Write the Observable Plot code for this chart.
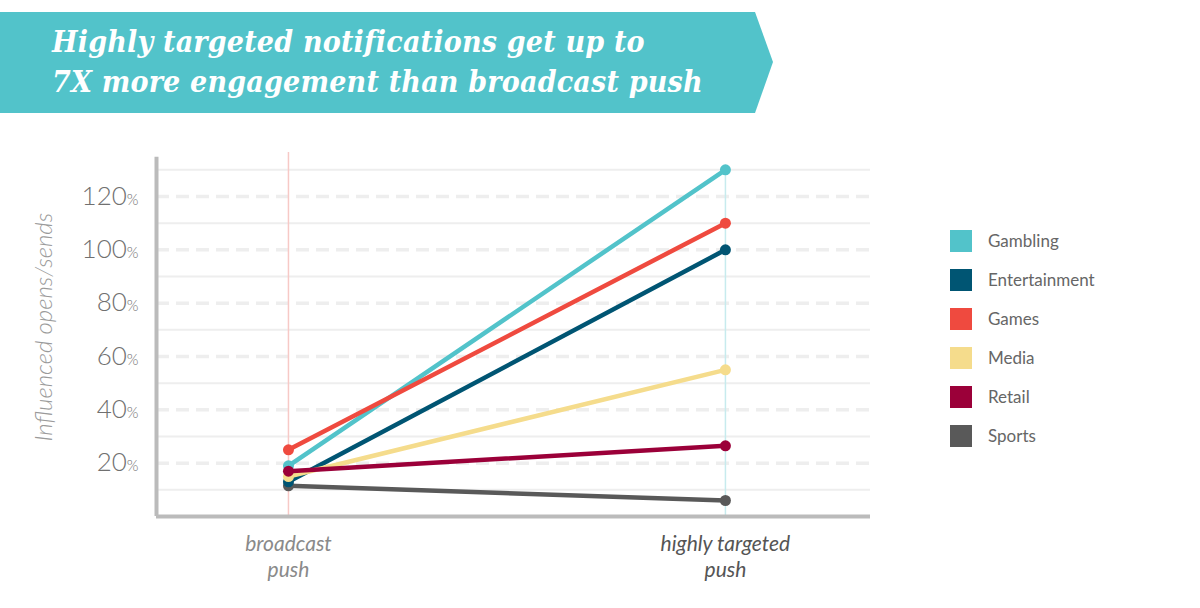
<!DOCTYPE html>
<html>
<head>
<meta charset="utf-8">
<script src="https://cdn.jsdelivr.net/npm/d3@7"></script>
<script src="https://cdn.jsdelivr.net/npm/@observablehq/plot@0.6"></script>
<style>
  html, body { margin: 0; padding: 0; background: #fff; }
  #wrap { position: relative; width: 1200px; height: 608px; overflow: hidden; font-family: Lato, "Open Sans", sans-serif; }
  #banner { position: absolute; left: 0; top: 12px; width: 775px; height: 101px; }
  #title { position: absolute; left: 52px; top: 22px; color: #fff; font-family: "DejaVu Serif", serif; font-style: italic; font-weight: bold; font-size: 30px; line-height: 40px; font-stretch: condensed; letter-spacing: 0.2px; }
  #chart { position: absolute; left: 0; top: 140px; }
  #legend { position: absolute; left: 950px; top: 221px; }
  .item { display: flex; align-items: center; height: 39px; }
  .sw { width: 22px; height: 22px; margin-right: 16px; }
  .lab { font-size: 17px; color: #666; font-weight: 400; }
</style>
</head>
<body>
<div id="wrap">
  <svg id="banner" viewBox="0 0 775 101"><polygon points="0,0 755,0 773,50 755,101 0,101" fill="#52C3CA"/></svg>
  <div id="title">Highly targeted notifications get up to<br>7X more engagement than broadcast push</div>
  <div id="chart"></div>
  <div id="legend"></div>
</div>
<script>
const categories = ["Gambling", "Entertainment", "Games", "Media", "Retail", "Sports"];
const colors = ["#52C3CA", "#005573", "#EF4A3F", "#F5DC8C", "#9B0039", "#595959"];
const pushTypes = ["broadcast\npush", "highly targeted\npush"];
const broadcastValues = [19, 13, 25, 15, 17, 11.5];
const targetedValues = [130, 100, 110, 55, 26.5, 6];
const yTicks = [20, 40, 60, 80, 100, 120];
const solidGrid = [10, 30, 50, 70, 90, 110, 130];
const drawOrder = ["Sports", "Entertainment", "Media", "Gambling", "Games", "Retail"];

const data = [];
for (const name of drawOrder) {
  const i = categories.indexOf(name);
  data.push({name, t: 0, v: broadcastValues[i]});
  data.push({name, t: 1, v: targetedValues[i]});
}
const labelData = pushTypes.map((label, t) => ({label, t}));

const xMin = -0.302, xMax = 1.332;
const plot = Plot.plot({
  width: 1200,
  height: 468,
  marginLeft: 156,
  marginRight: 330,
  marginTop: 16,
  marginBottom: 92,
  style: {fontFamily: "Lato, sans-serif", background: "transparent", overflow: "visible"},
  x: {domain: [xMin, xMax], axis: null},
  y: {domain: [0, 135], axis: null},
  color: {domain: categories, range: colors},
  marks: [
    Plot.ruleY(solidGrid, {x1: xMin, x2: xMax, stroke: "#eeeeee", strokeWidth: 2}),
    Plot.ruleY(yTicks, {x1: xMin, x2: xMax, stroke: "#eeeeee", strokeWidth: 3.5, strokeDasharray: "13,7"}),
    Plot.ruleX([0], {y1: 0, y2: 136.5, stroke: "#f7c9c6", strokeWidth: 1.5}),
    Plot.ruleX([1], {y1: 0, y2: 131.5, stroke: "#c7ebee", strokeWidth: 1.5}),
    Plot.ruleX([xMin], {y1: 0, y2: 134.7, stroke: "#bbbbbb", strokeWidth: 4}),
    Plot.ruleY([0], {x1: xMin, x2: xMax, stroke: "#bbbbbb", strokeWidth: 4}),
    Plot.axisY(yTicks, {tickSize: 0, tickPadding: 18, fontSize: 26, fill: "#707070", fontWeight: 300, tickFormat: d => d + "%", label: null}),
    Plot.text(["Influenced opens/sends"], {x: xMin, y: 71, dx: -112, rotate: -90, fontSize: 24, fontStyle: "italic", fontWeight: 300, fill: "#9a9a9a"}),
    Plot.line(data, {x: "t", y: "v", z: "name", stroke: "name", strokeWidth: 4.5}),
    Plot.dot(data, {x: "t", y: "v", fill: "name", r: 5.5}),
    Plot.text(labelData, {x: "t", y: 0, text: "label", dy: 16, lineAnchor: "top", lineHeight: 1.25, fontSize: 21, fontStyle: "italic",
      fill: d => d.t === 0 ? "#8a8a8a" : "#555", fontWeight: d => d.t === 0 ? 300 : 500})
  ]
});
document.getElementById("chart").appendChild(plot);

// smaller % sign on y tick labels
d3.select(plot).selectAll('g[aria-label="y-axis tick label"] text').each(function() {
  const el = d3.select(this);
  const s = el.text();
  if (s.endsWith("%")) {
    el.text(null);
    el.append("tspan").text(s.slice(0, -1));
    el.append("tspan").attr("font-size", 15).text("%");
  }
});

const legend = document.getElementById("legend");
categories.forEach((c, i) => {
  const row = document.createElement("div");
  row.className = "item";
  row.innerHTML = `<div class="sw" style="background:${colors[i]}"></div><div class="lab">${c}</div>`;
  legend.appendChild(row);
});
</script>
</body>
</html>
